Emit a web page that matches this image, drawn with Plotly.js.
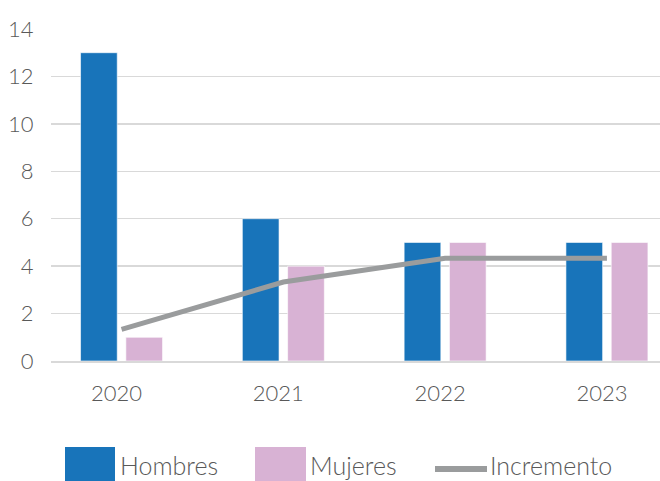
<!DOCTYPE html>
<html>
<head>
<meta charset="utf-8">
<script src="https://cdn.plot.ly/plotly-3.0.1.min.js"></script>
<style>html,body{margin:0;padding:0;background:#fff;}#chart{width:660px;height:481px;}</style>
</head>
<body>
<div id="chart"></div>
<script>
var years = ['2020', '2021', '2022', '2023'];
var hombres = [13, 6, 5, 5];
var mujeres = [1, 4, 5, 5];
var incremento = [1.33, 3.33, 4.33, 4.33];
var seriesNames = ['Hombres', 'Mujeres', 'Incremento'];
var yTicks = [0, 2, 4, 6, 8, 10, 12, 14];

var blue = '#1874BA', pink = '#D8B2D4', gray = '#9A9C9D';
var fontFam = 'Lato, "Open Sans", sans-serif';
var textCol = '#595959';

var traces = [
  {type: 'bar', x: years, y: hombres, name: seriesNames[0],
   marker: {color: blue, line: {color: 'rgba(255,255,255,0.6)', width: 1}}},
  {type: 'bar', x: years, y: mujeres, name: seriesNames[1],
   marker: {color: pink, line: {color: 'rgba(255,255,255,0.6)', width: 1}}},
  {type: 'scatter', mode: 'lines', x: years, y: incremento, name: seriesNames[2],
   line: {color: gray, width: 5}}
];

// pixel -> paper helpers (plot area: left 51, top 29, width 609, height 332)
function px(x) { return (x - 51) / 609; }
function py(y) { return (361 - y) / 332; }

var legFont = {family: fontFam, size: 25, color: textCol, weight: 300};
var tickFont = {family: fontFam, size: 22, color: textCol, weight: 300};

var layout = {
  width: 660, height: 481,
  margin: {l: 51, r: 0, t: 29, b: 120},
  paper_bgcolor: '#fff', plot_bgcolor: '#fff',
  showlegend: false,
  barmode: 'group', bargap: 0.44, bargroupgap: 0.19,
  font: {family: fontFam, color: textCol, size: 22},
  xaxis: {type: 'category', range: [-0.436, 3.328], showgrid: false, zeroline: false,
    showline: true, linecolor: '#D9D9D9', linewidth: 1.5,
    ticks: 'outside', ticklen: 12, tickcolor: 'rgba(0,0,0,0)',
    ticklabelshift: -5,
    tickfont: tickFont},
  yaxis: {range: [0, 14], tickvals: yTicks, showgrid: true, gridcolor: '#D9D9D9', gridwidth: 1.5,
    zeroline: false, showline: false,
    ticks: 'outside', ticklen: 12, tickcolor: 'rgba(0,0,0,0)',
    tickfont: tickFont},
  shapes: [
    {type: 'rect', xref: 'paper', yref: 'paper', x0: px(65), x1: px(115), y0: py(495), y1: py(447),
     fillcolor: blue, line: {width: 0}},
    {type: 'rect', xref: 'paper', yref: 'paper', x0: px(255), x1: px(306), y0: py(495), y1: py(447),
     fillcolor: pink, line: {width: 0}},
    {type: 'line', xref: 'paper', yref: 'paper', x0: px(435), x1: px(487), y0: py(469), y1: py(469),
     line: {color: gray, width: 6}}
  ],
  annotations: [
    {xref: 'paper', yref: 'paper', x: px(119), y: py(481), xanchor: 'left', yanchor: 'bottom',
     text: seriesNames[0], showarrow: false, font: legFont, borderpad: 0},
    {xref: 'paper', yref: 'paper', x: px(309), y: py(481), xanchor: 'left', yanchor: 'bottom',
     text: seriesNames[1], showarrow: false, font: legFont, borderpad: 0},
    {xref: 'paper', yref: 'paper', x: px(489), y: py(481), xanchor: 'left', yanchor: 'bottom',
     text: seriesNames[2], showarrow: false, font: legFont, borderpad: 0}
  ]
};

Plotly.newPlot('chart', traces, layout, {displayModeBar: false, staticPlot: true});
</script>
</body>
</html>
